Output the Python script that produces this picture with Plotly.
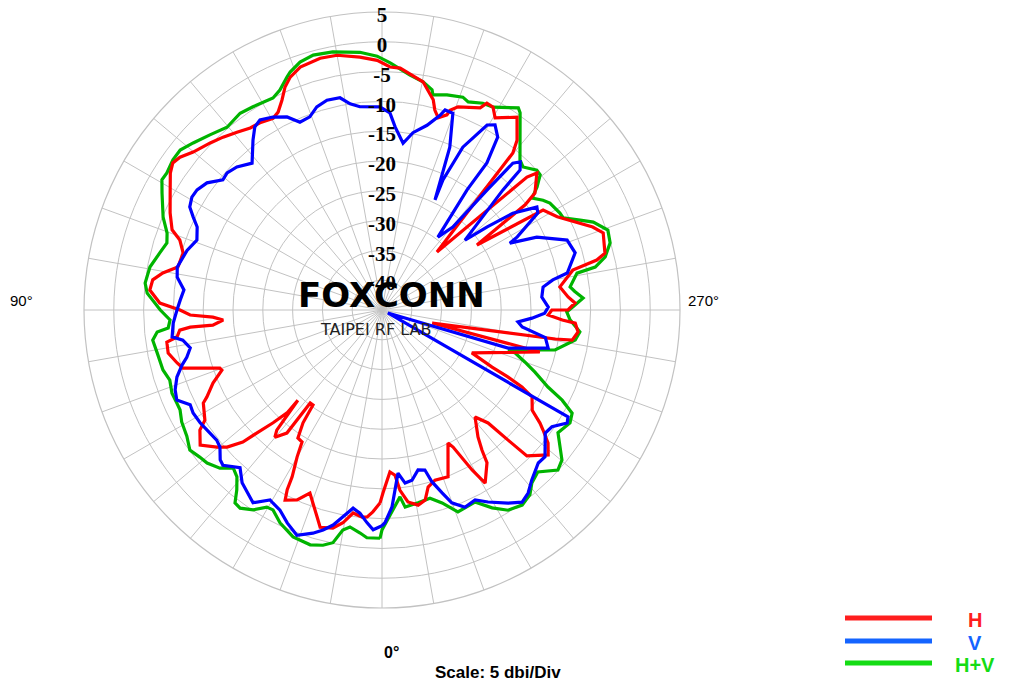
import plotly.graph_objects as go

# ---------------- data (angle in degrees, gain in dBi) ----------------
H_theta = [0.6, 2.6, 4.1, 5.5, 8.1, 10.4, 12.7, 15.9, 17.4, 19.7, 21.5, 24.1, 27.0, 27.8, 28.3, 30.0,
           31.2, 33.3, 35.0, 36.0, 37.7, 37.7, 40.1, 41.2, 43.0, 42.7, 44.0, 45.5, 46.5, 48.5, 50.3,
           53.4, 56.6, 58.1, 62.5, 63.6, 66.6, 69.4, 70.3, 73.7, 75.5, 78.6, 81.5, 82.5, 84.3, 84.9,
           84.9, 86.4, 87.6, 88.5, 90.0, 91.8, 94.9, 97.5, 99.6, 101.9, 106.0, 109.1, 110.9, 114.6,
           118.9, 122.9, 125.1, 127.1, 129.9, 134.2, 137.4, 140.8, 144.1, 146.9, 150.4, 152.3, 154.5,
           156.5, 158.5, 161.4, 166.2, 170.0, 175.0, 178.9, 181.9, 184.3, 190.2, 193.7, 194.8, 196.3,
           198.4, 198.8, 200.5, 205.9, 206.9, 208.7, 210.5, 215.0, 218.5, 219.8, 223.5, 227.5, 228.5,
           232.6, 233.7, 235.6, 238.2, 242.0, 248.5, 250.8, 255.7, 256.9, 258.2, 262.6, 266.0, 267.9,
           270.0, 270.0, 271.7, 273.2, 273.9, 276.4, 279.0, 279.5, 284.6, 284.9, 295.5, 297.4, 298.0,
           298.8, 300.1, 303.7, 305.6, 306.7, 308.7, 311.1, 315.2, 315.9, 316.8, 319.0, 322.9, 324.5,
           325.5, 329.2, 330.6, 332.6, 333.6, 338.4, 342.7, 345.4, 347.2, 349.5, 352.3, 354.3, 355.5,
           357.2, 359.7, 360.6]
H_db = [-12.6, -11.1, -10.2, -10.1, -10.6, -8.7, -7.5, -7.1, -8.6, -10.6, -12.0, -10.1, -9.2, -10.9,
        -13.2, -16.5, -19.1, -19.3, -21.9, -25.3, -25.3, -18.9, -17.1, -18.2, -24.3, -21.5, -18.7,
        -15.6, -12.8, -10.3, -9.0, -7.0, -8.4, -10.0, -11.2, -12.2, -14.1, -16.3, -16.1, -10.2, -9.5,
        -8.4, -8.5, -10.3, -10.9, -12.7, -16.5, -18.3, -16.6, -12.8, -11.1, -7.7, -5.9, -6.2, -7.7,
        -10.0, -10.3, -9.1, -7.3, -5.9, -4.4, -2.7, -2.1, -2.5, -3.7, -4.8, -5.6, -6.5, -7.3, -7.5,
        -8.0, -7.5, -6.0, -4.2, -3.0, -2.0, -1.5, -1.6, -2.4, -3.1, -4.2, -4.3, -6.1, -8.7, -10.3,
        -11.4, -10.5, -9.6, -8.6, -7.3, -6.1, -6.2, -7.6, -5.5, -8.6, -10.7, -31.6, -12.0, -10.3,
        -12.7, -15.2, -25.7, -13.2, -11.7, -7.0, -5.7, -6.4, -8.0, -12.3, -14.9, -13.7, -12.6, -13.8,
        -16.5, -17.1, -14.7, -12.5, -11.9, -12.7, -15.5, -36.3, -17.6, -28.3, -24.2, -21.1, -18.2,
        -15.9, -14.7, -12.4, -11.3, -9.3, -8.0, -10.5, -14.6, -19.0, -21.2, -18.3, -16.1, -13.9,
        -11.2, -14.2, -19.1, -20.1, -14.9, -15.1, -14.3, -12.3, -11.7, -12.5, -14.6, -17.2, -17.8,
        -14.3, -12.6]

V_theta = [0.0, 2.3, 4.0, 6.2, 8.3, 10.7, 12.8, 15.0, 17.2, 20.7, 24.0, 27.0, 29.5, 30.5, 33.8, 39.0,
           42.0, 45.7, 47.2, 49.8, 51.8, 54.4, 58.2, 61.4, 63.7, 66.3, 68.9, 71.9, 74.6, 76.4, 78.8,
           81.4, 82.7, 86.4, 90.0, 92.8, 95.8, 99.1, 101.8, 107.0, 110.7, 114.2, 116.2, 118.2, 120.7,
           123.0, 126.0, 129.3, 131.5, 134.6, 138.5, 142.8, 145.2, 147.3, 150.5, 153.8, 156.4, 159.5,
           162.2, 165.3, 168.8, 171.2, 173.8, 179.4, 182.3, 184.1, 187.2, 189.9, 193.7, 196.6, 197.5,
           199.8, 202.6, 205.7, 205.1, 206.4, 209.6, 211.4, 213.8, 215.5, 215.3, 217.5, 220.5, 221.2,
           221.7, 223.0, 224.6, 225.2, 229.9, 231.7, 233.5, 236.4, 238.1, 241.6, 242.4, 244.8, 249.3,
           253.5, 258.7, 260.0, 261.9, 265.4, 269.0, 271.1, 273.1, 275.0, 276.9, 279.6, 282.9, 286.8,
           296.6, 299.9, 301.4, 304.5, 307.0, 312.0, 314.4, 318.6, 321.4, 323.9, 326.9, 331.1, 333.9,
           337.2, 340.1, 341.8, 343.8, 345.0, 347.3, 350.0, 352.4, 354.4, 357.1, 359.2, 360.0]
V_db = [-8.8, -8.1, -9.2, -10.7, -11.4, -9.7, -8.0, -6.8, -5.8, -4.6, -5.9, -7.3, -7.8, -8.0, -6.1,
        -7.7, -9.4, -7.7, -8.0, -9.4, -9.7, -9.5, -9.1, -8.9, -9.1, -7.4, -7.8, -8.8, -10.2, -11.3,
        -12.2, -11.2, -9.5, -9.9, -10.6, -11.1, -11.6, -10.2, -9.9, -10.8, -11.8, -11.0, -9.7, -8.4,
        -7.9, -8.0, -8.7, -10.5, -10.3, -10.8, -12.1, -9.2, -7.6, -7.1, -7.8, -8.9, -10.6, -10.4,
        -9.2, -8.6, -8.7, -10.0, -10.7, -10.9, -11.9, -14.2, -16.8, -14.8, -13.1, -10.9, -9.8, -9.9,
        -15.4, -24.5, -20.9, -14.5, -9.3, -8.6, -10.1, -14.7, -20.3, -29.6, -26.7, -18.2, -12.0,
        -11.0, -12.0, -16.4, -26.8, -22.5, -17.7, -13.8, -14.2, -19.2, -20.8, -16.3, -11.8, -11.2,
        -13.3, -15.9, -17.7, -18.1, -17.1, -17.7, -19.8, -22.1, -21.3, -17.2, -16.4, -22.9, -43.9,
        -9.0, -8.6, -10.4, -10.7, -8.2, -8.3, -7.0, -5.7, -5.1, -6.3, -8.2, -9.5, -9.1, -10.6, -12.7,
        -15.0, -17.2, -17.5, -16.0, -15.7, -17.5, -11.9, -9.3, -8.8]

HV_theta = [0.5, 3.8, 5.6, 8.4, 10.1, 11.9, 14.1, 17.0, 21.4, 25.6, 28.6, 30.3, 32.8, 35.6, 37.3,
            38.9, 41.0, 43.3, 45.7, 48.8, 51.1, 53.9, 57.1, 60.8, 63.7, 65.6, 68.4, 71.7, 74.7, 79.2,
            82.5, 84.4, 85.2, 87.3, 90.0, 94.1, 96.5, 100.5, 104.4, 107.3, 109.7, 113.0, 118.0, 120.6,
            122.5, 125.7, 128.4, 131.5, 135.5, 139.7, 144.2, 147.6, 152.8, 155.1, 157.8, 158.9, 161.7,
            164.9, 169.2, 175.1, 178.9, 181.9, 186.8, 190.2, 192.8, 193.3, 196.8, 200.8, 202.5, 206.0,
            208.7, 214.0, 215.0, 222.6, 224.6, 227.9, 229.5, 231.6, 233.3, 235.7, 237.5, 241.4, 243.0,
            245.6, 247.4, 250.5, 253.6, 256.6, 258.6, 259.3, 263.0, 264.5, 266.6, 268.5, 270.6, 273.0,
            276.3, 278.8, 283.0, 287.6, 287.9, 290.0, 292.1, 294.9, 296.6, 298.5, 301.0, 304.9, 309.8,
            312.3, 316.1, 319.1, 321.3, 324.3, 327.8, 330.9, 334.2, 339.4, 342.7, 345.7, 349.4, 353.3,
            354.5, 360.0, 360.5]
HV_db = [-6.7, -6.7, -7.4, -8.2, -7.5, -5.1, -4.3, -3.8, -4.1, -5.4, -6.8, -6.7, -5.1, -4.1, -4.3,
         -6.2, -7.9, -8.6, -7.0, -6.0, -5.7, -5.1, -6.0, -6.5, -7.2, -7.2, -7.1, -7.5, -6.9, -6.6,
         -6.2, -7.1, -9.0, -9.4, -7.8, -5.5, -5.0, -5.4, -6.5, -7.2, -6.7, -5.1, -3.2, -2.1, -2.2,
         -1.8, -1.8, -2.7, -3.8, -4.8, -4.3, -4.6, -5.0, -4.3, -2.8, -2.2, -1.2, -0.7, -0.9, -1.6,
         -2.4, -3.5, -5.3, -6.1, -7.1, -7.9, -7.3, -6.8, -7.2, -6.4, -6.2, -4.1, -4.6, -10.8, -11.3,
         -10.0, -10.1, -11.8, -13.6, -12.3, -11.6, -11.0, -10.9, -8.5, -6.6, -4.8, -5.1, -6.5, -8.5,
         -11.7, -13.2, -12.5, -11.2, -12.6, -14.0, -13.4, -11.6, -12.2, -15.2, -22.8, -21.5, -19.5,
         -17.3, -14.3, -11.2, -8.7, -8.2, -9.0, -5.7, -5.1, -7.3, -6.6, -5.3, -4.7, -5.3, -7.0, -9.2,
         -8.8, -11.1, -12.4, -12.1, -11.7, -13.5, -8.1, -6.7]

radial_ticks = [5, 0, -5, -10, -15, -20, -25, -30, -35, -40]
radial_range = [-45, 5]
series_names = ["H", "V", "H+V"]
series_colors = ["#ff0000", "#0000ff", "#00b400"]
legend_colors = ["#ff1e1e", "#1464ff", "#14dc14"]

# ---------------- page geometry (page has an 8px body margin) ----------------
OFF = 8
W, Hh = 1001, 683


def px(x):
    return (x - OFF) / W


def py(y):
    return (Hh - (y - OFF)) / Hh


cx, cy, R = 382, 310, 298
LABEL_DROP = 5  # radial labels sit a few px below their rings

fig = go.Figure()
order = [(HV_theta, HV_db, 2), (H_theta, H_db, 0), (V_theta, V_db, 1)]
for th, db, i in order:
    fig.add_trace(go.Scatterpolar(
        theta=th, r=db, mode="lines", name=series_names[i],
        line=dict(color=series_colors[i], width=3.2), showlegend=False, hoverinfo="skip"))

# radial tick labels, on an overlaid (invisible) polar with the same scale
fig.add_trace(go.Scatterpolar(
    theta=[180] * len(radial_ticks), r=radial_ticks, mode="text", subplot="polar2",
    text=[str(v) for v in radial_ticks], textposition="middle center", cliponaxis=False,
    textfont=dict(family="Liberation Serif", size=21, color="black", weight="bold"),
    showlegend=False, hoverinfo="skip"))

common_ang = dict(rotation=270, direction="clockwise", dtick=10)
fig.update_layout(
    width=W, height=Hh, margin=dict(l=0, r=0, t=0, b=0),
    paper_bgcolor="white", plot_bgcolor="white", showlegend=False,
    polar=dict(
        domain=dict(x=[px(cx - R), px(cx + R)], y=[py(cy + R), py(cy - R)]),
        bgcolor="white",
        radialaxis=dict(range=radial_range, tick0=-45, dtick=5, showticklabels=False, ticks="",
                        showline=False, gridcolor="#c2c2c2", gridwidth=1.2),
        angularaxis=dict(**common_ang, showticklabels=False,
                         ticks="", showline=True, linecolor="#c2c2c2", linewidth=1.2,
                         gridcolor="#c2c2c2", gridwidth=1.2),
    ),
    polar2=dict(
        domain=dict(x=[px(cx - R), px(cx + R)],
                    y=[py(cy + R + LABEL_DROP), py(cy - R + LABEL_DROP)]),
        bgcolor="rgba(0,0,0,0)",
        radialaxis=dict(range=radial_range, visible=False),
        angularaxis=dict(**common_ang, visible=False),
    ),
)


def note(x, y, text, size, color="black", family="Liberation Sans"):
    fig.add_annotation(x=px(x), y=py(y), xref="paper", yref="paper", showarrow=False,
                       xanchor="center", yanchor="middle", text=text,
                       font=dict(family=family, size=size, color=color))


# center logo text
note(391, 295, "<b>FOXCONN</b>", 34, family="DejaVu Sans")
note(375, 330, "TAIPEI RF LAB", 16, color="#222222", family="DejaVu Sans")

# angle labels
note(21, 300, "90°", 15)
note(703, 300, "270°", 15)
note(391, 652, "<b>0°</b>", 16)
note(498, 672, "<b>Scale: 5 dbi/Div</b>", 17)

# legend
leg_y = [618, 641, 663]
for i in range(3):
    fig.add_shape(type="line", xref="paper", yref="paper",
                  x0=px(845), x1=px(932), y0=py(leg_y[i]), y1=py(leg_y[i]),
                  line=dict(color=legend_colors[i], width=5))
    note(975, leg_y[i] + 2, "<b>" + series_names[i] + "</b>", 20, color=legend_colors[i])

fig.write_html("out.html")
